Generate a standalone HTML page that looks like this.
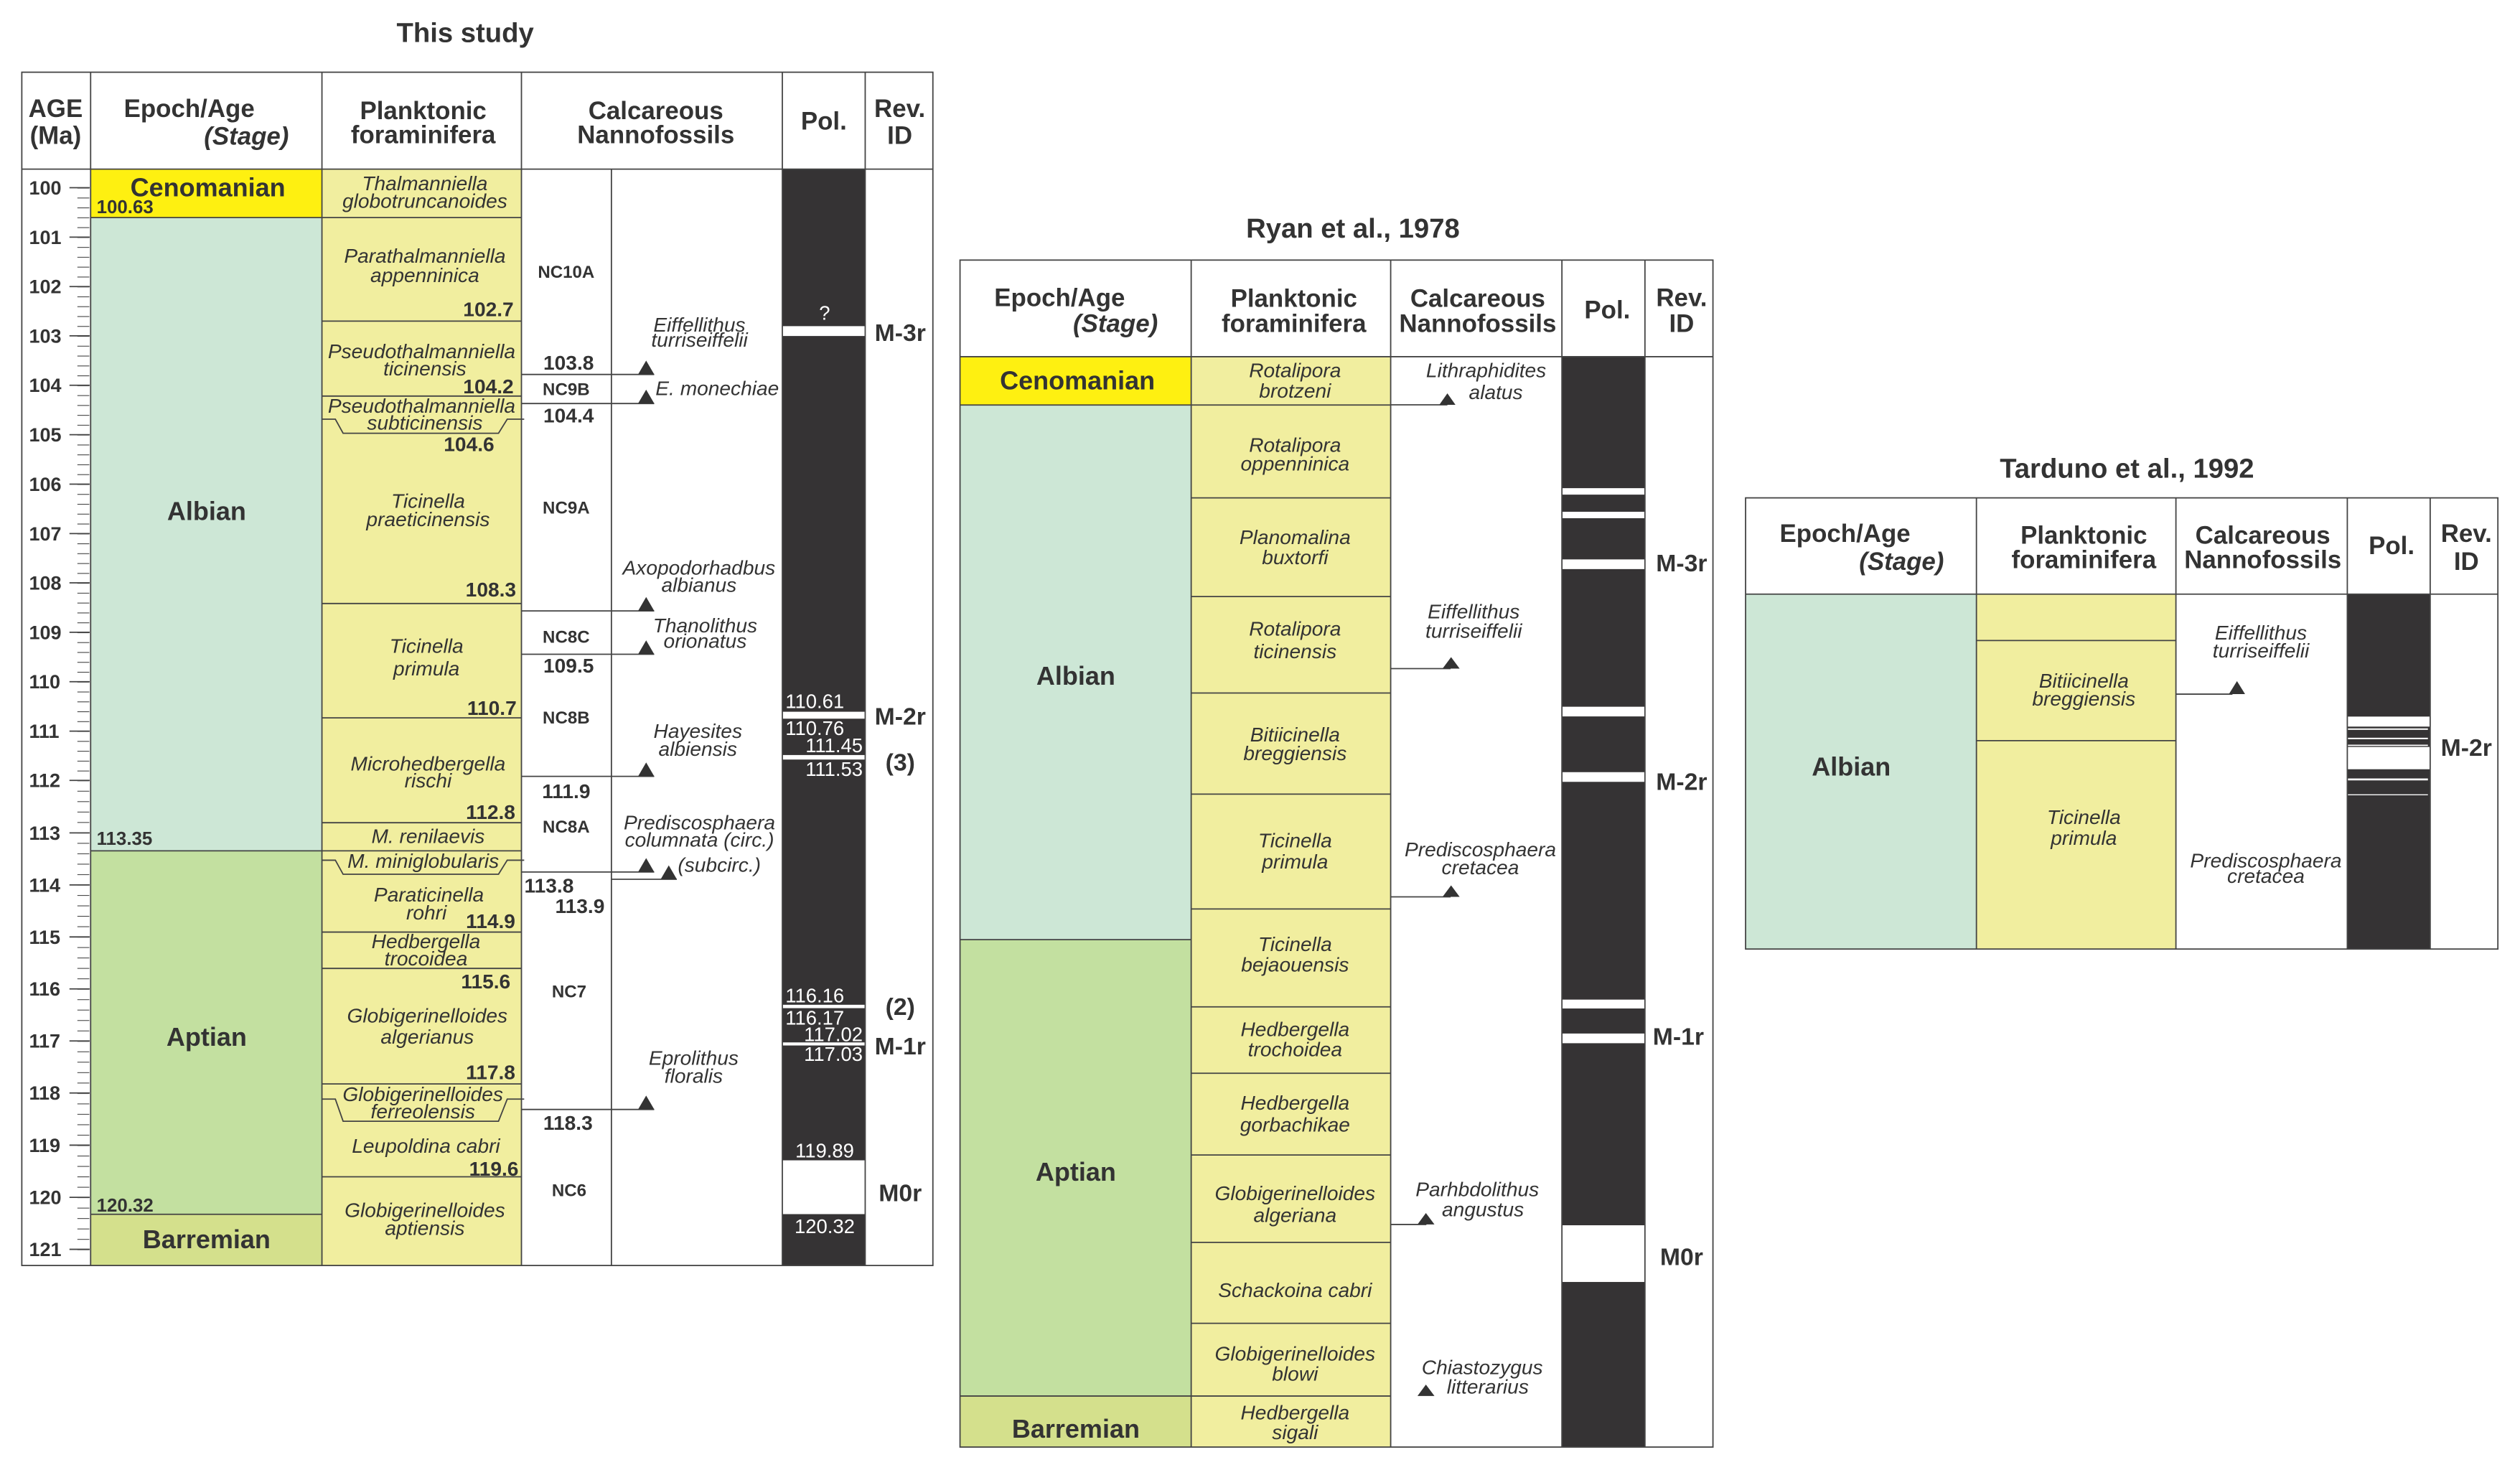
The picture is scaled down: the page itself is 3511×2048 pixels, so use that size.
<!DOCTYPE html>
<html><head><meta charset="utf-8"><style>
html,body{margin:0;padding:0;background:#fff}
svg{display:block}
text{font-family:"Liberation Sans",Arial,sans-serif;fill:#333}
.h{font-weight:bold;font-size:15.5px}
.hi{font-weight:bold;font-style:italic;font-size:15.5px}
.t{font-weight:bold;font-size:17px}
.i{font-style:italic;font-size:12.5px}
.b{font-weight:bold;font-size:12.5px}
.z{font-weight:bold;font-size:10.7px}
.e{font-weight:bold;font-size:16px}
.r{font-weight:bold;font-size:15px}
.p{font-size:12.2px;fill:#fff}
.a{font-weight:bold;font-size:12px}
.c{text-anchor:middle}
.en{text-anchor:end}
</style></head><body>
<svg width="3511" height="2048" viewBox="0 0 1560 910" preserveAspectRatio="none" xmlns="http://www.w3.org/2000/svg">
<defs>
<pattern id="t1" patternUnits="userSpaceOnUse" x="0" y="116.2" width="20" height="6.116"><line x1="0" y1="0.25" x2="20" y2="0.25" stroke="#444" stroke-width="0.5"/></pattern>
<pattern id="t2" patternUnits="userSpaceOnUse" x="0" y="483.1" width="20" height="6.452"><line x1="0" y1="0.25" x2="20" y2="0.25" stroke="#444" stroke-width="0.5"/></pattern>
</defs>
<rect width="1560" height="910" fill="#fff"/>

<!-- ============ PANEL 1 ============ -->
<text class="t c" x="288" y="26">This study</text>
<!-- fills -->
<rect x="56.1" y="104.7" width="143.2" height="30" fill="#fef011"/>
<rect x="56.1" y="134.7" width="143.2" height="392" fill="#cde7d6"/>
<rect x="56.1" y="526.7" width="143.2" height="225" fill="#c3e0a0"/>
<rect x="56.1" y="751.7" width="143.2" height="31.7" fill="#d4e08c"/>
<rect x="199.3" y="104.7" width="123.5" height="678.7" fill="#f1ee9f"/>
<rect x="484.3" y="104.7" width="51.3" height="678.7" fill="#353334"/>
<!-- pol whites -->
<g fill="#fff">
<rect x="484.3" y="201.9" width="51.3" height="6.1"/>
<rect x="484.3" y="440.6" width="51.3" height="4.3"/>
<rect x="484.3" y="467.4" width="51.3" height="2.8"/>
<rect x="484.3" y="622" width="51.3" height="2.1"/>
<rect x="484.3" y="645.3" width="51.3" height="1.9"/>
<rect x="484.3" y="718.3" width="51.3" height="33.3"/>
</g>
<!-- structure -->
<g stroke="#444" stroke-width="0.8" fill="none">
<rect x="13.5" y="44.7" width="564" height="738.7"/>
<line x1="13.5" y1="104.7" x2="577.5" y2="104.7"/>
<line x1="56.1" y1="44.7" x2="56.1" y2="783.4"/>
<line x1="199.3" y1="44.7" x2="199.3" y2="783.4"/>
<line x1="322.8" y1="44.7" x2="322.8" y2="783.4"/>
<line x1="378.5" y1="104.7" x2="378.5" y2="783.4"/>
<line x1="484.3" y1="44.7" x2="484.3" y2="783.4"/>
<line x1="535.6" y1="44.7" x2="535.6" y2="783.4"/>
<!-- epoch boundaries -->
<line x1="56.1" y1="134.7" x2="199.3" y2="134.7"/>
<line x1="56.1" y1="526.7" x2="199.3" y2="526.7"/>
<line x1="56.1" y1="751.7" x2="199.3" y2="751.7"/>
<!-- plankton boundaries -->
<line x1="199.3" y1="134.7" x2="322.8" y2="134.7"/>
<line x1="199.3" y1="198.8" x2="322.8" y2="198.8"/>
<line x1="199.3" y1="245.2" x2="322.8" y2="245.2"/>
<line x1="199.3" y1="373.6" x2="322.8" y2="373.6"/>
<line x1="199.3" y1="444.4" x2="322.8" y2="444.4"/>
<line x1="199.3" y1="509.3" x2="322.8" y2="509.3"/>
<line x1="199.3" y1="526.7" x2="322.8" y2="526.7"/>
<line x1="199.3" y1="577" x2="322.8" y2="577"/>
<line x1="199.3" y1="599.5" x2="322.8" y2="599.5"/>
<line x1="199.3" y1="671" x2="322.8" y2="671"/>
<line x1="199.3" y1="728.5" x2="322.8" y2="728.5"/>
<path d="M199.3 259.5 H207.6 L212.4 268.2 H308.6 L314 259.5 H324.5"/>
<path d="M199.3 532.5 H207.6 L212.4 541.2 H308.6 L314 532.5 H324.5"/>
<path d="M199.3 680.4 H207.6 L212.4 694.1 H308.6 L314 680.4 H324.5"/>
<!-- nanno lines -->
<line x1="322.8" y1="231.8" x2="405" y2="231.8"/>
<line x1="322.8" y1="249.8" x2="405" y2="249.8"/>
<line x1="322.8" y1="378.2" x2="405" y2="378.2"/>
<line x1="322.8" y1="405" x2="405" y2="405"/>
<line x1="322.8" y1="480.6" x2="405" y2="480.6"/>
<line x1="322.8" y1="539.8" x2="405" y2="539.8"/>
<line x1="378.5" y1="544.3" x2="419" y2="544.3"/>
<line x1="322.8" y1="686.8" x2="405" y2="686.8"/>
<!-- major ticks -->
<path d="M43 116.2H55.5M43 146.8H55.5M43 177.4H55.5M43 207.9H55.5M43 238.5H55.5M43 269.1H55.5M43 299.7H55.5M43 330.3H55.5M43 360.8H55.5M43 391.4H55.5M43 422H55.5M43 452.6H55.5M43 483.1H55.5M43 515.6H55.5M43 547.8H55.5M43 580H55.5M43 612.2H55.5M43 644.4H55.5M43 676.6H55.5M43 708.9H55.5M43 741.2H55.5M43 773.4H55.5"/>
</g>
<rect x="47.9" y="116" width="7.4" height="367.3" fill="url(#t1)"/>
<rect x="47.9" y="483" width="7.4" height="291" fill="url(#t2)"/>
<!-- triangles -->
<g fill="#333">
<path d="M395 231.8 L400 223.2 L405 231.8Z"/>
<path d="M395 249.8 L400 241.2 L405 249.8Z"/>
<path d="M395 378.2 L400 369.6 L405 378.2Z"/>
<path d="M395 405 L400 396.4 L405 405Z"/>
<path d="M395 480.6 L400 472 L405 480.6Z"/>
<path d="M395 539.8 L400 531.2 L405 539.8Z"/>
<path d="M409 544.3 L414 535.7 L419 544.3Z"/>
<path d="M395 686.8 L400 678.2 L405 686.8Z"/>
</g>
<!-- header text -->
<text class="h c" x="34.4" y="72.5">AGE</text>
<text class="h c" x="34.4" y="89.1">(Ma)</text>
<text class="h" x="76.7" y="72.5">Epoch/Age</text>
<text class="hi en" x="178.8" y="89.6">(Stage)</text>
<text class="h c" x="262" y="73.8">Planktonic</text>
<text class="h c" x="262" y="88.6">foraminifera</text>
<text class="h c" x="406" y="73.8">Calcareous</text>
<text class="h c" x="406" y="88.6">Nannofossils</text>
<text class="h c" x="510" y="80.2">Pol.</text>
<text class="h c" x="557" y="72.5">Rev.</text>
<text class="h c" x="557" y="89.1">ID</text>
<!-- age labels -->
<g class="a">
<text x="18" y="120.5">100</text><text x="18" y="151">101</text><text x="18" y="181.6">102</text><text x="18" y="212.1">103</text><text x="18" y="242.7">104</text><text x="18" y="273.3">105</text><text x="18" y="303.9">106</text><text x="18" y="334.5">107</text><text x="18" y="365">108</text><text x="18" y="395.6">109</text><text x="18" y="426.2">110</text><text x="18" y="456.8">111</text><text x="18" y="487.3">112</text><text x="18" y="519.8">113</text><text x="18" y="552">114</text><text x="18" y="584.2">115</text><text x="18" y="616.4">116</text><text x="18" y="648.6">117</text><text x="18" y="680.8">118</text><text x="18" y="713.1">119</text><text x="18" y="745.4">120</text><text x="18" y="777.6">121</text>
</g>
<!-- epoch -->
<text class="e c" x="128.7" y="121.5">Cenomanian</text>
<text class="b" x="59.8" y="132" style="font-size:11.5px">100.63</text>
<text class="e c" x="127.9" y="322">Albian</text>
<text class="b" x="59.8" y="523" style="font-size:11.5px">113.35</text>
<text class="e c" x="127.9" y="647.3">Aptian</text>
<text class="b" x="59.8" y="750" style="font-size:11.5px">120.32</text>
<text class="e c" x="127.9" y="772.7">Barremian</text>
<!-- plankton labels -->
<g class="i c">
<text x="263" y="117.7">Thalmanniella</text><text x="263" y="128.7">globotruncanoides</text>
<text x="263" y="162.6">Parathalmanniella</text><text x="263" y="174.6">appenninica</text>
<text x="261" y="221.8">Pseudothalmanniella</text><text x="263" y="232.5">ticinensis</text>
<text x="261" y="255.4">Pseudothalmanniella</text><text x="263" y="265.9">subticinensis</text>
<text x="265" y="314.4">Ticinella</text><text x="265" y="325.6">praeticinensis</text>
<text x="264" y="404.2">Ticinella</text><text x="264" y="418.2">primula</text>
<text x="265" y="476.9">Microhedbergella</text><text x="265" y="487.5">rischi</text>
<text x="265" y="521.8">M. renilaevis</text>
<text x="262" y="537.2">M. miniglobularis</text>
<text x="265.5" y="558">Paraticinella</text><text x="264" y="569.2">rohri</text>
<text x="263.7" y="587">Hedbergella</text><text x="263.7" y="597.6">trocoidea</text>
<text x="264.5" y="633">Globigerinelloides</text><text x="264.5" y="646">algerianus</text>
<text x="261.8" y="681.6">Globigerinelloides</text><text x="261.8" y="692.3">ferreolensis</text>
<text x="263.7" y="713.6">Leupoldina cabri</text>
<text x="263" y="753.3">Globigerinelloides</text><text x="263" y="764.4">aptiensis</text>
</g>
<g class="b en">
<text x="318" y="195.8">102.7</text>
<text x="318" y="243.4">104.2</text>
<text x="306" y="279.2">104.6</text>
<text x="319.5" y="369.2">108.3</text>
<text x="319.8" y="442.5">110.7</text>
<text x="319" y="506.9">112.8</text>
<text x="319" y="574.6">114.9</text>
<text x="316" y="611.8">115.6</text>
<text x="319" y="668">117.8</text>
<text x="321" y="727.8">119.6</text>
</g>
<!-- nanno zones -->
<g class="z c">
<text x="350.5" y="172">NC10A</text>
<text x="350.5" y="244.5">NC9B</text>
<text x="350.5" y="318">NC9A</text>
<text x="350.5" y="398">NC8C</text>
<text x="350.5" y="448">NC8B</text>
<text x="350.5" y="515.5">NC8A</text>
<text x="352.3" y="617.5">NC7</text>
<text x="352.3" y="740.5">NC6</text>
</g>
<g class="b">
<text class="c" x="352" y="228.8">103.8</text>
<text class="c" x="352" y="261.5">104.4</text>
<text class="c" x="352" y="416.3">109.5</text>
<text class="c" x="350.5" y="494.1">111.9</text>
<text x="324.6" y="552.6">113.8</text>
<text class="c" x="359" y="565.1">113.9</text>
<text class="c" x="351.6" y="699.4">118.3</text>
</g>
<g class="i c">
<text x="433" y="205.2">Eiffellithus</text><text x="433" y="214.6">turriseiffelii</text>
<text x="405.8" y="244.7" style="text-anchor:start">E. monechiae</text>
<text x="432.7" y="355.7">Axopodorhadbus</text><text x="432.7" y="366.4">albianus</text>
<text x="436.5" y="391.4">Thanolithus</text><text x="436.5" y="401">orionatus</text>
<text x="432" y="456.7">Hayesites</text><text x="432" y="468">albiensis</text>
<text x="433" y="513.5">Prediscosphaera</text><text x="433" y="524.2">columnata (circ.)</text>
<text x="419.6" y="539.6" style="text-anchor:start">(subcirc.)</text>
<text x="429.4" y="659.1">Eprolithus</text><text x="429.4" y="670.2">floralis</text>
</g>
<!-- pol labels -->
<text class="p c" x="510.5" y="198">?</text>
<text class="p" x="486.2" y="438.3">110.61</text>
<text class="p" x="486.2" y="455.1">110.76</text>
<text class="p en" x="534.1" y="465.7">111.45</text>
<text class="p en" x="534.1" y="480.4">111.53</text>
<text class="p" x="486.2" y="620.5">116.16</text>
<text class="p" x="486.2" y="634.3">116.17</text>
<text class="p en" x="534.1" y="644.5">117.02</text>
<text class="p en" x="534.1" y="656.8">117.03</text>
<text class="p c" x="510.5" y="716.6">119.89</text>
<text class="p c" x="510.5" y="763.3">120.32</text>
<!-- rev -->
<g class="r c">
<text x="557.3" y="211">M-3r</text>
<text x="557.3" y="448.5">M-2r</text>
<text x="557.3" y="476.9">(3)</text>
<text x="557.3" y="628.4">(2)</text>
<text x="557.3" y="652.7">M-1r</text>
<text x="557.3" y="743.6">M0r</text>
</g>

<!-- ============ PANEL 2 ============ -->
<text class="t c" x="837.5" y="147">Ryan et al., 1978</text>
<rect x="594.3" y="220.8" width="143.1" height="30" fill="#fef011"/>
<rect x="594.3" y="250.8" width="143.1" height="331" fill="#cde7d6"/>
<rect x="594.3" y="581.7" width="143.1" height="282.5" fill="#c3e0a0"/>
<rect x="594.3" y="864.2" width="143.1" height="31.6" fill="#d4e08c"/>
<rect x="737.4" y="220.8" width="123.5" height="675" fill="#f1ee9f"/>
<rect x="966.9" y="220.8" width="51.4" height="675" fill="#353334"/>
<g fill="#fff">
<rect x="966.9" y="302.2" width="51.4" height="4"/>
<rect x="966.9" y="316.8" width="51.4" height="4"/>
<rect x="966.9" y="346.3" width="51.4" height="6"/>
<rect x="966.9" y="437.5" width="51.4" height="6"/>
<rect x="966.9" y="478" width="51.4" height="6"/>
<rect x="966.9" y="618.8" width="51.4" height="5.5"/>
<rect x="966.9" y="639.8" width="51.4" height="6"/>
<rect x="966.9" y="758.5" width="51.4" height="35.1"/>
</g>
<g stroke="#444" stroke-width="0.8" fill="none">
<rect x="594.3" y="161" width="466.1" height="734.8"/>
<line x1="594.3" y1="220.8" x2="1060.4" y2="220.8"/>
<line x1="737.4" y1="161" x2="737.4" y2="895.8"/>
<line x1="860.9" y1="161" x2="860.9" y2="895.8"/>
<line x1="966.9" y1="161" x2="966.9" y2="895.8"/>
<line x1="1018.3" y1="161" x2="1018.3" y2="895.8"/>
<line x1="594.3" y1="250.7" x2="860.9" y2="250.7"/>
<line x1="594.3" y1="581.7" x2="737.4" y2="581.7"/>
<line x1="594.3" y1="864.2" x2="860.9" y2="864.2"/>
<line x1="737.4" y1="308.2" x2="860.9" y2="308.2"/>
<line x1="737.4" y1="369.3" x2="860.9" y2="369.3"/>
<line x1="737.4" y1="429" x2="860.9" y2="429"/>
<line x1="737.4" y1="491.6" x2="860.9" y2="491.6"/>
<line x1="737.4" y1="562.7" x2="860.9" y2="562.7"/>
<line x1="737.4" y1="623.3" x2="860.9" y2="623.3"/>
<line x1="737.4" y1="664.4" x2="860.9" y2="664.4"/>
<line x1="737.4" y1="715" x2="860.9" y2="715"/>
<line x1="737.4" y1="769.1" x2="860.9" y2="769.1"/>
<line x1="737.4" y1="819.2" x2="860.9" y2="819.2"/>
<line x1="860.9" y1="250.6" x2="896" y2="250.6"/>
<line x1="860.9" y1="413.9" x2="898" y2="413.9"/>
<line x1="860.9" y1="555.2" x2="898" y2="555.2"/>
<line x1="860.9" y1="758" x2="883" y2="758"/>
</g>
<g fill="#333">
<path d="M891 250.6 L896 243.5 L901 250.6Z"/>
<path d="M893 413.9 L898.3 406.8 L903.6 413.9Z"/>
<path d="M893 555.2 L898.3 548.1 L903.6 555.2Z"/>
<path d="M877.5 758 L882.7 750.9 L888 758Z"/>
<path d="M877.5 864.2 L882.7 857.1 L888 864.2Z"/>
</g>
<text class="h" x="615.5" y="189.5">Epoch/Age</text>
<text class="hi en" x="716.8" y="205.5">(Stage)</text>
<text class="h c" x="801" y="190">Planktonic</text>
<text class="h c" x="801" y="205.5">foraminifera</text>
<text class="h c" x="914.8" y="190">Calcareous</text>
<text class="h c" x="914.8" y="205.5">Nannofossils</text>
<text class="h c" x="995" y="197">Pol.</text>
<text class="h c" x="1041" y="189.5">Rev.</text>
<text class="h c" x="1041" y="205.5">ID</text>
<text class="e c" x="667" y="241.1">Cenomanian</text>
<text class="e c" x="666" y="424">Albian</text>
<text class="e c" x="666" y="731">Aptian</text>
<text class="e c" x="666" y="890">Barremian</text>
<g class="i c">
<text x="801.7" y="233.6">Rotalipora</text><text x="801.7" y="246.1">brotzeni</text>
<text x="801.7" y="279.7">Rotalipora</text><text x="801.7" y="291.2">oppenninica</text>
<text x="801.7" y="336.8">Planomalina</text><text x="801.7" y="349.3">buxtorfi</text>
<text x="801.7" y="393.4">Rotalipora</text><text x="801.7" y="407.4">ticinensis</text>
<text x="801.7" y="459">Bitiicinella</text><text x="801.7" y="470.5">breggiensis</text>
<text x="801.7" y="524.6">Ticinella</text><text x="801.7" y="537.7">primula</text>
<text x="801.7" y="588.7">Ticinella</text><text x="801.7" y="601.3">bejaouensis</text>
<text x="801.7" y="641.3">Hedbergella</text><text x="801.7" y="653.8">trochoidea</text>
<text x="801.7" y="686.9">Hedbergella</text><text x="801.7" y="700.4">gorbachikae</text>
<text x="801.7" y="743">Globigerinelloides</text><text x="801.7" y="756.5">algeriana</text>
<text x="801.7" y="803">Schackoina cabri</text>
<text x="801.7" y="842.2">Globigerinelloides</text><text x="801.7" y="854.7">blowi</text>
<text x="801.7" y="878.7">Hedbergella</text><text x="801.7" y="890.8">sigali</text>
<text x="920" y="233.6">Lithraphidites</text><text x="926" y="247.1">alatus</text>
<text x="912.3" y="382.9">Eiffellithus</text><text x="912.3" y="394.9">turriseiffelii</text>
<text x="916.4" y="530.1">Prediscosphaera</text><text x="916.4" y="541.2">cretacea</text>
<text x="914.5" y="740.5">Parhbdolithus</text><text x="918" y="753">angustus</text>
<text x="917.6" y="850.7">Chiastozygus</text><text x="921" y="862.7">litterarius</text>
</g>
<g class="r c">
<text x="1041" y="353.8">M-3r</text>
<text x="1041" y="489.1">M-2r</text>
<text x="1039" y="646.8">M-1r</text>
<text x="1041" y="783.1">M0r</text>
</g>

<!-- ============ PANEL 3 ============ -->
<text class="t c" x="1316.7" y="295.7">Tarduno et al., 1992</text>
<rect x="1080.6" y="367.8" width="142.9" height="219.7" fill="#cde7d6"/>
<rect x="1223.5" y="367.8" width="123.5" height="219.7" fill="#f1ee9f"/>
<rect x="1453.1" y="367.8" width="51.3" height="219.7" fill="#353334"/>
<g fill="#fff">
<rect x="1453.1" y="443.6" width="51.3" height="6.2"/>
<rect x="1452" y="450.9" width="51" height="0.9"/>
<rect x="1452" y="456.7" width="51" height="0.9"/>
<rect x="1452" y="461" width="51" height="0.8"/>
<rect x="1453.1" y="462.4" width="51.3" height="13.8"/>
<rect x="1452" y="481.9" width="51" height="1.2"/>
<rect x="1452" y="491.7" width="51" height="0.6"/>
</g>
<g stroke="#444" stroke-width="0.8" fill="none">
<rect x="1080.6" y="308.2" width="465.7" height="279.3"/>
<line x1="1080.6" y1="367.8" x2="1546.3" y2="367.8"/>
<line x1="1223.5" y1="308.2" x2="1223.5" y2="587.5"/>
<line x1="1347" y1="308.2" x2="1347" y2="587.5"/>
<line x1="1453.1" y1="308.2" x2="1453.1" y2="587.5"/>
<line x1="1504.4" y1="308.2" x2="1504.4" y2="587.5"/>
<line x1="1223.5" y1="396.5" x2="1347" y2="396.5"/>
<line x1="1223.5" y1="458.5" x2="1347" y2="458.5"/>
<line x1="1347" y1="429.7" x2="1382" y2="429.7"/>
</g>
<path d="M1379.8 429.7 L1384.8 421.6 L1389.8 429.7Z" fill="#333"/>
<text class="h" x="1101.7" y="335.5">Epoch/Age</text>
<text class="hi en" x="1203.4" y="352.8">(Stage)</text>
<text class="h c" x="1290" y="336.6">Planktonic</text>
<text class="h c" x="1290" y="351.7">foraminifera</text>
<text class="h c" x="1400.8" y="336.6">Calcareous</text>
<text class="h c" x="1400.8" y="351.7">Nannofossils</text>
<text class="h c" x="1480.5" y="343">Pol.</text>
<text class="h c" x="1526.8" y="335.5">Rev.</text>
<text class="h c" x="1526.8" y="352.8">ID</text>
<text class="e c" x="1146" y="480">Albian</text>
<g class="i c">
<text x="1290" y="425.6">Bitiicinella</text><text x="1290" y="436.8">breggiensis</text>
<text x="1290" y="510">Ticinella</text><text x="1290" y="522.9">primula</text>
<text x="1399.6" y="395.8">Eiffellithus</text><text x="1399.6" y="407">turriseiffelii</text>
<text x="1402.7" y="536.9">Prediscosphaera</text><text x="1402.7" y="546.6">cretacea</text>
</g>
<text class="r c" x="1526.8" y="468">M-2r</text>
</svg>
</body></html>
